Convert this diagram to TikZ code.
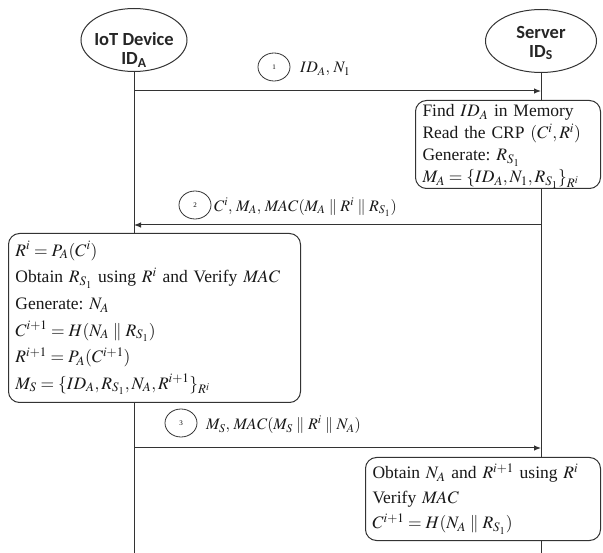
\documentclass[tikz,border=0pt]{standalone}
\usepackage{mathptmx}
\usepackage{fontspec}
\setmainfont{Liberation Serif}
\newfontfamily\lblfont{Carlito}
\usetikzlibrary{shapes.geometric,arrows.meta}
\frenchspacing
\begin{document}
\begin{tikzpicture}[x=1pt,y=-1pt,
  line/.style={draw=black!80,line width=1pt},
  actor/.style={ellipse,line,minimum width=#1,minimum height=63pt,inner sep=0pt},
  actorlbl/.style={font=\lblfont\bfseries\fontsize{18.5}{20}\selectfont,align=center,text=black!85,inner sep=0pt},
  procbox/.style={line,rounded corners=11pt,fill=white,anchor=north west,align=left,
     font=\fontsize{17.5}{#1}\selectfont,inner xsep=7pt,inner ysep=0pt,text=black!90},
  num/.style={ellipse,line,line width=0.8pt,minimum width=32pt,minimum height=28pt,inner sep=0pt,font=\fontsize{7}{8}\selectfont},
  msg/.style={font=\fontsize{16}{18}\selectfont,anchor=west,inner sep=0pt,text=black!90},
  arr/.style={line,-{Latex[length=7pt,width=5.5pt]}}]
\useasboundingbox (0,0) rectangle (603,553);
% actors
\node[actor=106pt] (A) at (134,40) {};
\node[actorlbl] (Alab) at (134,50) {IoT Device\\[-1pt]ID\textsubscript{A}};
\node[actor=111pt] (S) at (541,41) {};
\node[actorlbl] (Slab) at (541,43) {Server\\[-1pt]ID\textsubscript{S}};
% boxes
\node[procbox=22pt,text width=171pt,minimum height=88pt] (sb1) at (415,100) {%
\rule{0pt}{16pt}Find $ID_A$ in Memory\\
Read the CRP $(C^i,R^i)$\\
Generate: $R_{S_1}$\\
$M_A=\{ID_A,N_1,R_{S_1}\}_{R^i}$};
\node[procbox=26.6pt,text width=278pt,minimum height=169pt] (lb) at (8,233) {%
$R^i=P_A(C^i)$\\
Obtain $R_{S_1}$ using $R^i$ and Verify $\mathit{MAC}$\\
Generate: $N_A$\\
$C^{i+1}=H(N_A\parallel R_{S_1})$\\
$R^{i+1}=P_A(C^{i+1})$\\
$M_S=\{ID_A,R_{S_1},N_A,R^{i+1}\}_{R^i}$};
\node[procbox=25pt,text width=221pt,minimum height=83pt] (sb2) at (365,457) {%
Obtain $N_A$ and $R^{i+1}$ using $R^i$\\
Verify $\mathit{MAC}$\\
$C^{i+1}=H(N_A\parallel R_{S_1})$};
% lifeline ends
\coordinate (Aend) at (134,553);
\coordinate (Send) at (541,553);
\path[line] (A.south) -- (A.south |- lb.north);
\path[line] (lb.south -| A) -- (Aend);
\path[line] (S.south) -- (S.south |- sb1.north);
\path[line] (sb1.south -| S) -- (sb2.north -| S);
\path[line] (sb2.south -| S) -- (Send);
% messages
\coordinate (m1a) at (134,91);
\coordinate (m1b) at (541,91);
\draw[arr] (m1a) -- (m1b);
\node[num] (n1) at (274,67) {1};
\node[msg] (t1) at (300,69) {$ID_A,\,N_1$};
\coordinate (m2a) at (541,225);
\coordinate (m2b) at (134,225);
\draw[arr] (m2a) -- (m2b);
\node[num] (n2) at (195,205) {2};
\node[msg] (t2) at (214,207) {$C^i,\,M_A,\,\mathit{MAC}(M_A\parallel R^i\parallel R_{S_1})$};
\coordinate (m3a) at (134,448);
\coordinate (m3b) at (541,448);
\draw[arr] (m3a) -- (m3b);
\node[num] (n3) at (181,423) {3};
\node[msg] (t3) at (206,425) {$M_S,\,\mathit{MAC}(M_S\parallel R^i\parallel N_A)$};
\end{tikzpicture}
\end{document}
